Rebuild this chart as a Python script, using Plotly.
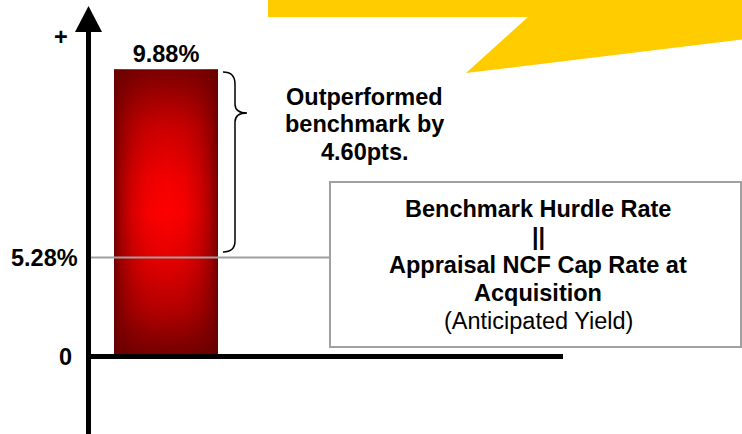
import plotly.graph_objects as go

# ---------------- data ----------------
categories = ["Actual Yield"]
actual_yield = [9.88]            # % (bar)
hurdle_rate = [5.28]             # % benchmark hurdle rate
axis_labels = ["+", "0"]
outperf_lines = ["Outperformed", "benchmark by"]
box_lines = ["Benchmark Hurdle Rate", "||", "Appraisal NCF Cap Rate at",
             "Acquisition", "(Anticipated Yield)"]

# ---------------- layout constants (pixels) ----------------
W, H = 742, 434
FONT = "Liberation Sans, Arial, sans-serif"
FS = 23.5
BAR_WIDTH = 1.0
BAR_CX, BAR_W_PX = 166, 104
Y0_PX, BAR_TOP_PX, HURDLE_PX = 356.5, 69.5, 257.5
AXIS_X_PX = 88.5
BOX = (330, 182, 741, 347)
OUT_CX, OUT_BASE0, OUT_STEP = 364.5, 105, 27.5
BOX_CX, BOX_BASE0, BOX_STEP = 538, 216.7, 28


def fx(p):
    return p / W


def fy(p):
    return 1 - p / H


def px_to_x(p):
    return (p - BAR_CX) / BAR_W_PX * BAR_WIDTH


def mid_from_base(b):
    # centre of text box given the baseline pixel
    return b - (0.905 - 0.212) / 2 * FS


k1 = (Y0_PX - BAR_TOP_PX) / actual_yield[0]
k2 = (Y0_PX - HURDLE_PX) / hurdle_rate[0]
x_range = [px_to_x(0), px_to_x(W)]
y_range = [-(H - Y0_PX) / k1, Y0_PX / k1]
y2_range = [-(H - Y0_PX) / k2, Y0_PX / k2]

bar_x = [0]
v = actual_yield[0]
h = BAR_WIDTH / 2
rect_x = [bar_x[0] - h, bar_x[0] + h, bar_x[0] + h, bar_x[0] - h, bar_x[0] - h]
rect_y = [0, 0, v, v, 0]

fig = go.Figure()

fig.add_trace(go.Bar(
    x=bar_x, y=actual_yield, width=BAR_WIDTH, name=categories[0],
    marker=dict(color="#c00000", line=dict(width=0)),
    texttemplate="<b>%{y:.2f}%</b>", textposition="outside",
    textfont=dict(family=FONT, size=FS, color="black"),
    constraintext="none", cliponaxis=False, hoverinfo="skip",
))

# shading of the bar: vertical gradient + darkened side edges
fig.add_trace(go.Scatter(
    x=rect_x, y=rect_y, mode="lines", fill="toself", line=dict(width=0),
    fillgradient=dict(type="vertical",
                      colorscale=[[0, "#720000"], [0.06, "#8a0000"], [0.16, "#b40000"],
                                  [0.33, "#e40000"], [0.5, "#ff0000"], [0.62, "#f40000"],
                                  [0.8, "#cc0000"], [0.92, "#9c0000"], [1, "#7c0000"]]),
    hoverinfo="skip", showlegend=False,
))
fig.add_trace(go.Scatter(
    x=rect_x, y=rect_y, mode="lines", fill="toself", line=dict(width=0),
    fillgradient=dict(type="horizontal",
                      colorscale=[[0, "rgba(100,0,0,0.9)"], [0.07, "rgba(100,0,0,0.55)"],
                                  [0.18, "rgba(100,0,0,0.25)"], [0.32, "rgba(100,0,0,0.06)"],
                                  [0.5, "rgba(100,0,0,0)"], [0.68, "rgba(100,0,0,0.06)"],
                                  [0.82, "rgba(100,0,0,0.25)"], [0.93, "rgba(100,0,0,0.55)"],
                                  [1, "rgba(100,0,0,0.9)"]]),
    hoverinfo="skip", showlegend=False,
))

# hurdle line
fig.add_trace(go.Scatter(
    x=[px_to_x(AXIS_X_PX + 2.5), px_to_x(BOX[0])],
    y=[hurdle_rate[0], hurdle_rate[0]],
    yaxis="y2", mode="lines",
    line=dict(color="#a0a0a0", width=2),
    hoverinfo="skip", showlegend=False,
))


def svg(pts):
    out = []
    for cmd, coords in pts:
        s = " ".join(f"{fx(a):.5f},{fy(b):.5f}" for a, b in coords)
        out.append(f"{cmd} {s}")
    return " ".join(out)


callout = svg([("M", [(268, 0)]), ("L", [(268, 17)]), ("L", [(528, 17)]),
               ("L", [(466, 73)]), ("L", [(742, 39.5)]), ("L", [(742, 0)])]) + " Z"
arrow = svg([("M", [(75, 32)]), ("L", [(AXIS_X_PX, 6)]), ("L", [(102, 32)])]) + " Z"
brace = svg([
    ("M", [(223, 72)]),
    ("C", [(231, 72), (235, 76), (235, 84)]),
    ("L", [(235, 104)]),
    ("C", [(235, 110), (239, 113), (247, 113)]),
    ("C", [(239, 113), (235, 116), (235, 122)]),
    ("L", [(235, 241)]),
    ("C", [(235, 248), (231, 252), (223, 252)]),
])

shapes = [
    dict(type="path", xref="paper", yref="paper", path=callout,
         fillcolor="#ffcc00", line=dict(width=0), layer="below"),
    dict(type="line", xref="paper", yref="paper", x0=fx(AXIS_X_PX), x1=fx(AXIS_X_PX),
         y0=fy(28), y1=0, line=dict(color="black", width=5)),
    dict(type="path", xref="paper", yref="paper", path=arrow,
         fillcolor="black", line=dict(width=0)),
    dict(type="line", xref="paper", yref="y", x0=fx(86), x1=fx(563),
         y0=0, y1=0, line=dict(color="black", width=5)),
    dict(type="rect", xref="paper", yref="paper", x0=fx(BOX[0]), x1=fx(BOX[2]),
         y0=fy(BOX[1]), y1=fy(BOX[3]), line=dict(color="#a0a0a0", width=2)),
    dict(type="path", xref="paper", yref="paper", path=brace,
         line=dict(color="black", width=1.5)),
]

diff = actual_yield[0] - hurdle_rate[0]
fb = dict(family=FONT, size=FS, color="black")


def ann(text, x, y, yref="paper", xanchor="center"):
    return dict(x=x, y=y, xref="paper", yref=yref, text=text, showarrow=False,
                font=fb, xanchor=xanchor, yanchor="middle", align="center")


annotations = [
    ann(f"<b>{axis_labels[0]}</b>", fx(61), fy(37.5)),
    ann(f"<b>{axis_labels[1]}</b>", fx(74), 0, yref="y", xanchor="right"),
    ann(f"<b>{hurdle_rate[0]:.2f}%</b>", fx(79.5), hurdle_rate[0], yref="y2", xanchor="right"),
]
for i, t in enumerate(outperf_lines + [f"{diff:.2f}pts."]):
    annotations.append(ann(f"<b>{t}</b>", fx(OUT_CX), fy(mid_from_base(OUT_BASE0 + i * OUT_STEP))))
for i, t in enumerate(box_lines):
    txt = f"<b>{t}</b>" if i < 4 else t
    annotations.append(ann(txt, fx(BOX_CX), fy(mid_from_base(BOX_BASE0 + i * BOX_STEP))))

fig.update_layout(
    width=W, height=H, autosize=False,
    margin=dict(l=0, r=0, t=0, b=0, pad=0),
    paper_bgcolor="white", plot_bgcolor="rgba(0,0,0,0)",
    showlegend=False,
    xaxis=dict(range=x_range, visible=False, fixedrange=True),
    yaxis=dict(range=y_range, visible=False, fixedrange=True),
    yaxis2=dict(range=y2_range, visible=False, overlaying="y", fixedrange=True),
    shapes=shapes, annotations=annotations,
    font=dict(family=FONT),
)

fig.write_html(
    "out.html",
    config={"displayModeBar": False},
    post_script="document.body.style.margin='0px';document.body.style.overflow='hidden';",
)
